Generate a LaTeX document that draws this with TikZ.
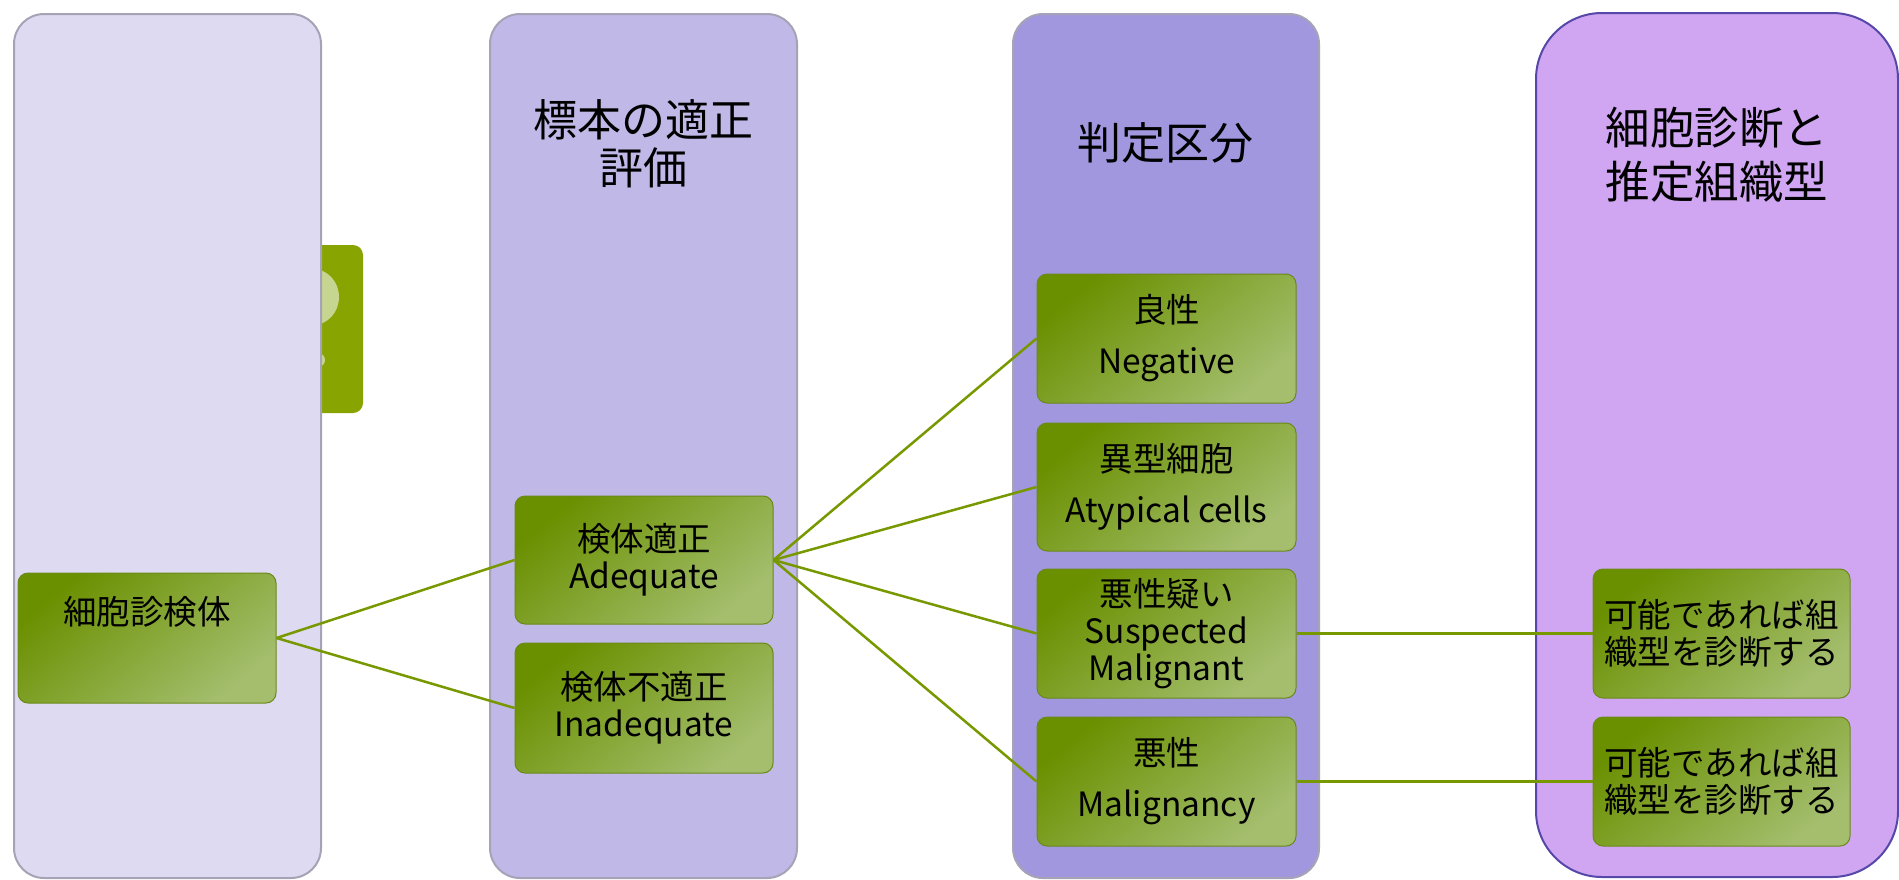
\documentclass[tikz,border=0pt]{standalone}
\usepackage{fontspec}
\setmainfont{Noto Sans CJK JP}
\definecolor{colA}{HTML}{DEDAF1}
\definecolor{colB}{HTML}{C0B8E6}
\definecolor{colC}{HTML}{A197DE}
\definecolor{colD}{HTML}{D0A6F2}
\definecolor{bordA}{HTML}{A6A3B6}
\definecolor{bordD}{HTML}{5548A8}
\definecolor{gDark}{HTML}{6A9000}
\definecolor{gMid}{HTML}{80A400}
\definecolor{gLight}{HTML}{A4BE6E}
\definecolor{gEdge}{HTML}{6A8A18}
\definecolor{tabG}{HTML}{88A400}
\definecolor{tabPale}{HTML}{C6D590}
\definecolor{lineG}{HTML}{789800}
\begin{document}
\begin{tikzpicture}[x=1pt,y=-1pt,
  column/.style={draw=bordA, line width=2pt, rounded corners=30pt, inner sep=0pt},
  head/.style={align=center, font=\fontsize{44}{48}\selectfont, inner sep=0pt},
  gbox/.style={draw=gEdge, line width=1pt, rounded corners=10pt, inner sep=0pt,
    top color=gDark, middle color=gMid, bottom color=gLight, shading angle=40,
    minimum width=258pt, minimum height=129pt, align=center,
    font=\fontsize{33.5}{37}\selectfont},
  conn/.style={draw=lineG, line width=2.5pt}
]
\useasboundingbox (0,0) rectangle (1899,879);
\fill[white] (0,0) rectangle (1899,879);

% green tab behind first column
\fill[tabG, rounded corners=10pt] (300,245) rectangle (363,413);
\fill[tabPale] (313,297) ellipse [x radius=26, y radius=28];
\fill[tabPale] (318,360) circle [radius=7];

% columns
\node[column, fill=colA, minimum width=307pt, minimum height=864pt] (c1) at (167.5,446) {};
\node[column, fill=colB, minimum width=307pt, minimum height=864pt] (c2) at (643.5,446) {};
\node[column, fill=colC, minimum width=306pt, minimum height=864pt] (c3) at (1166,446) {};
\node[column, draw=bordD, fill=colD, rounded corners=66pt, minimum width=362pt, minimum height=864pt] (c4) at (1717,445) {};

% headers
\node[head] (h2) at (643,144) {標本の適正\\評価};
\node[head] (h3) at (1165,143) {判定区分};
\node[head, font=\fontsize{44.5}{54}\selectfont] (h4) at (1717,155) {細胞診断と\\推定組織型};

% green boxes
\node[gbox, minimum height=130pt] (spec) at (147,638) {};
\node[inner sep=0pt, font=\fontsize{33.5}{37}\selectfont] (spect) at (147,612) {細胞診検体};
\node[gbox, minimum height=128pt] (adeq) at (644,560) {検体適正\\Adequate};
\node[gbox, minimum height=130pt] (inad) at (644,708) {検体不適正\\Inadequate};
\node[gbox, minimum width=259pt] (neg) at (1166.5,338.5) {良性\\[14pt]Negative};
\node[gbox, minimum width=259pt, minimum height=128pt] (aty) at (1166.5,487) {異型細胞\\[14pt]Atypical cells};
\node[gbox, minimum width=259pt] (sus) at (1166.5,633.5) {悪性疑い\\Suspected\\Malignant};
\node[gbox, minimum width=259pt] (mal) at (1166.5,781.5) {悪性\\[14pt]Malignancy};
\node[gbox, minimum width=257pt] (r1) at (1721.5,633.5) {可能であれば組\\織型を診断する};
\node[gbox, minimum width=257pt] (r2) at (1721.5,781.5) {可能であれば組\\織型を診断する};

% connectors
\draw[conn] (spec.east) -- (adeq.west);
\draw[conn] (spec.east) -- (inad.west);
\draw[conn] (adeq.east) -- (neg.west);
\draw[conn] (adeq.east) -- (aty.west);
\draw[conn] (adeq.east) -- (sus.west);
\draw[conn] (adeq.east) -- (mal.west);
\draw[conn] (sus.east) -- (r1.west);
\draw[conn] (mal.east) -- (r2.west);
\end{tikzpicture}
\end{document}
